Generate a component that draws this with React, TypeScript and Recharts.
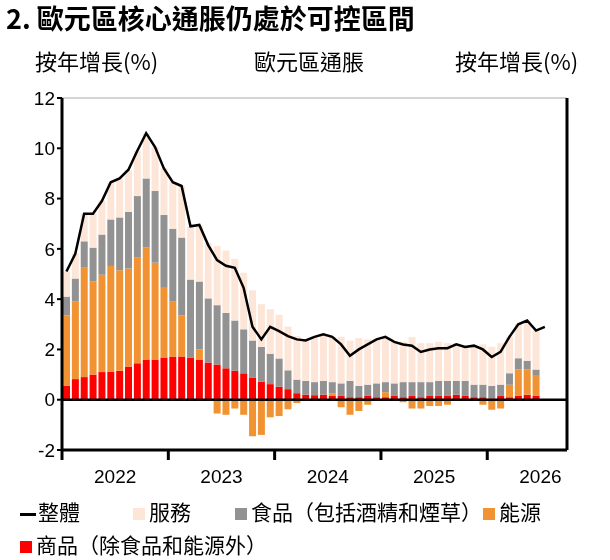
import React from "react";
import {
  ComposedChart,
  Bar,
  Line,
  XAxis,
  YAxis,
  CartesianGrid,
  ReferenceLine,
} from "recharts";

// monthly, Jan 2022 onwards (last slots left empty)
const goods = [0.55, 0.82, 0.9, 1.0, 1.1, 1.12, 1.15, 1.32, 1.45, 1.6, 1.6, 1.68, 1.7, 1.72, 1.68, 1.6, 1.48, 1.4, 1.25, 1.15, 1.05, 0.88, 0.72, 0.62, 0.52, 0.42, 0.26, 0.2, 0.18, 0.2, 0.15, 0.15, 0.1, 0.1, 0.15, 0.1, 0.1, 0.15, 0.1, 0.15, 0.1, 0.15, 0.15, 0.15, 0.2, 0.15, 0.1, 0.1, 0.05, 0.15, 0.1, 0.15, 0.2, 0.15];
const energy = [2.8, 3.1, 4.35, 3.7, 3.87, 4.2, 4.0, 3.9, 4.2, 4.45, 3.85, 2.77, 2.2, 1.63, 0, 0.4, -0.05, -0.55, -0.6, -0.35, -0.6, -1.45, -1.4, -0.7, -0.65, -0.38, -0.13, 0, 0, 0, 0.1, -0.3, -0.6, -0.45, -0.2, 0, 0.2, 0, -0.1, -0.35, -0.35, -0.25, -0.25, -0.2, -0.05, -0.05, 0, -0.2, -0.4, -0.35, 0.5, 1.05, 1.0, 0.8];
const food = [0.75, 0.9, 1.05, 1.35, 1.6, 1.85, 2.1, 2.25, 2.45, 2.75, 2.85, 2.9, 2.9, 3.1, 3.1, 2.7, 2.55, 2.36, 2.2, 2.0, 1.75, 1.48, 1.38, 1.21, 1.12, 0.75, 0.54, 0.55, 0.52, 0.55, 0.45, 0.5, 0.65, 0.45, 0.45, 0.55, 0.4, 0.5, 0.6, 0.55, 0.6, 0.55, 0.6, 0.6, 0.55, 0.6, 0.5, 0.5, 0.5, 0.45, 0.45, 0.45, 0.35, 0.25];
const services = [1.0, 1.0, 1.1, 1.35, 1.35, 1.45, 1.55, 1.65, 1.8, 1.8, 1.75, 1.85, 1.85, 2.05, 2.1, 2.25, 2.2, 2.35, 2.48, 2.45, 2.25, 1.99, 1.7, 1.77, 1.74, 1.74, 1.73, 1.61, 1.8, 1.85, 1.8, 1.85, 1.6, 1.9, 1.8, 1.75, 1.8, 1.65, 1.6, 1.8, 1.55, 1.55, 1.55, 1.5, 1.5, 1.4, 1.55, 1.6, 1.55, 1.65, 1.45, 1.35, 1.6, 1.55];
const headline = [5.1, 5.8, 7.4, 7.4, 7.9, 8.65, 8.8, 9.15, 9.9, 10.6, 10.05, 9.2, 8.65, 8.5, 6.9, 6.95, 6.15, 5.55, 5.33, 5.25, 4.45, 2.9, 2.4, 2.9, 2.73, 2.53, 2.4, 2.36, 2.5, 2.6, 2.5, 2.2, 1.75, 2.0, 2.2, 2.4, 2.5, 2.3, 2.2, 2.15, 1.9, 2.0, 2.05, 2.05, 2.2, 2.1, 2.15, 2.0, 1.7, 1.9, 2.5, 3.0, 3.15, 2.75, 2.9];
const years = ["2022", "2023", "2024", "2025", "2026"];
const yTicks = [-2, 0, 2, 4, 6, 8, 10, 12];
const slots = 57;

const data = Array.from({ length: slots }, (_, i) => ({
  i,
  goods: goods[i],
  energy: energy[i],
  food: food[i],
  services: services[i],
  headline: headline[i],
}));

const numFont = "'Liberation Sans', Arial, sans-serif";
const cjkFont = "'Noto Sans CJK TC', 'Liberation Sans', sans-serif";

const YearTick = (props: any) => {
  const { x, y, payload } = props;
  const idx = payload.value as number;
  const band = 505 / slots;
  const left = x - band / 2;
  return (
    <g>
      {idx % 12 === 0 && (
        <line x1={left} x2={left} y1={y - 8} y2={y + 2} stroke="#000" strokeWidth={3} />
      )}
      {idx % 12 === 6 && (
        <text x={left} y={y + 25} textAnchor="middle" fontSize={19} fontFamily={numFont} fill="#000">
          {years[Math.floor(idx / 12)]}
        </text>
      )}
    </g>
  );
};

const Swatch = ({ color }: { color: string }) => (
  <span style={{ display: "inline-block", width: 12, height: 12, background: color, marginRight: 4 }} />
);

const legendItem = (left: number, top: number, content: React.ReactNode) => (
  <div style={{ position: "absolute", left, top, fontSize: 21, whiteSpace: "nowrap", lineHeight: "26px" }}>
    {content}
  </div>
);

export default function App() {
  return (
    <div style={{ position: "fixed", left: 0, top: 0, width: 610, height: 560, background: "#fff", fontFamily: cjkFont }}>
      <div style={{ position: "absolute", left: 6, top: -2, fontSize: 27, fontWeight: "bold" }}>
        2. 歐元區核心通脹仍處於可控區間
      </div>
      <div style={{ position: "absolute", left: 35, top: 44, fontSize: 22 }}>按年增長(%)</div>
      <div style={{ position: "absolute", left: 254, top: 44, fontSize: 22 }}>歐元區通脹</div>
      <div style={{ position: "absolute", left: 455, top: 44, fontSize: 22 }}>按年增長(%)</div>
      <div style={{ position: "absolute", left: 0, top: 0 }}>
        <ComposedChart
          width={610}
          height={490}
          data={data}
          stackOffset="sign"
          barCategoryGap={1}
          margin={{ top: 98, right: 0, bottom: 0, left: 0 }}
        >
          <CartesianGrid vertical={false} stroke="#d4d4d4" strokeWidth={2} />
          <XAxis
            dataKey="i"
            interval={0}
            tick={<YearTick />}
            tickLine={false}
            axisLine={{ stroke: "#000", strokeWidth: 3 }}
            height={40}
          />
          <YAxis
            yAxisId="l"
            domain={[-2, 12]}
            ticks={yTicks}
            width={62}
            tick={{ fontSize: 19, fill: "#000", fontFamily: numFont }}
            axisLine={{ stroke: "#000", strokeWidth: 3 }}
            tickLine={{ stroke: "#000", strokeWidth: 2 }}
            tickSize={5}
          />
          <YAxis
            yAxisId="r"
            orientation="right"
            domain={[-2, 12]}
            ticks={yTicks}
            width={43}
            tick={{ fontSize: 19, fill: "#000", fontFamily: numFont }}
            axisLine={{ stroke: "#000", strokeWidth: 3 }}
            tickLine={{ stroke: "#000", strokeWidth: 2 }}
            tickSize={5}
          />
          <Bar yAxisId="l" dataKey="goods" stackId="a" fill="#ff0000" isAnimationActive={false} />
          <Bar yAxisId="l" dataKey="energy" stackId="a" fill="#f29333" isAnimationActive={false} />
          <Bar yAxisId="l" dataKey="food" stackId="a" fill="#929292" isAnimationActive={false} />
          <Bar yAxisId="l" dataKey="services" stackId="a" fill="#fde6d8" isAnimationActive={false} />
          <ReferenceLine yAxisId="l" y={0} stroke="#000" strokeWidth={2.5} />
          <Line
            yAxisId="l"
            dataKey="headline"
            type="linear"
            stroke="#000"
            strokeWidth={2.5}
            dot={false}
            isAnimationActive={false}
          />
        </ComposedChart>
      </div>
      {legendItem(20, 498, <>
        <span style={{ display: "inline-block", width: 16, height: 3, background: "#000", verticalAlign: "middle", marginRight: 2 }} />
        整體
      </>)}
      {legendItem(133, 498, <><Swatch color="#fde6d8" />服務</>)}
      {legendItem(235, 498, <><Swatch color="#929292" />食品（包括酒精和煙草）</>)}
      {legendItem(483, 498, <><Swatch color="#f29333" />能源</>)}
      {legendItem(20, 531, <><Swatch color="#ff0000" />商品（除食品和能源外）</>)}
    </div>
  );
}
